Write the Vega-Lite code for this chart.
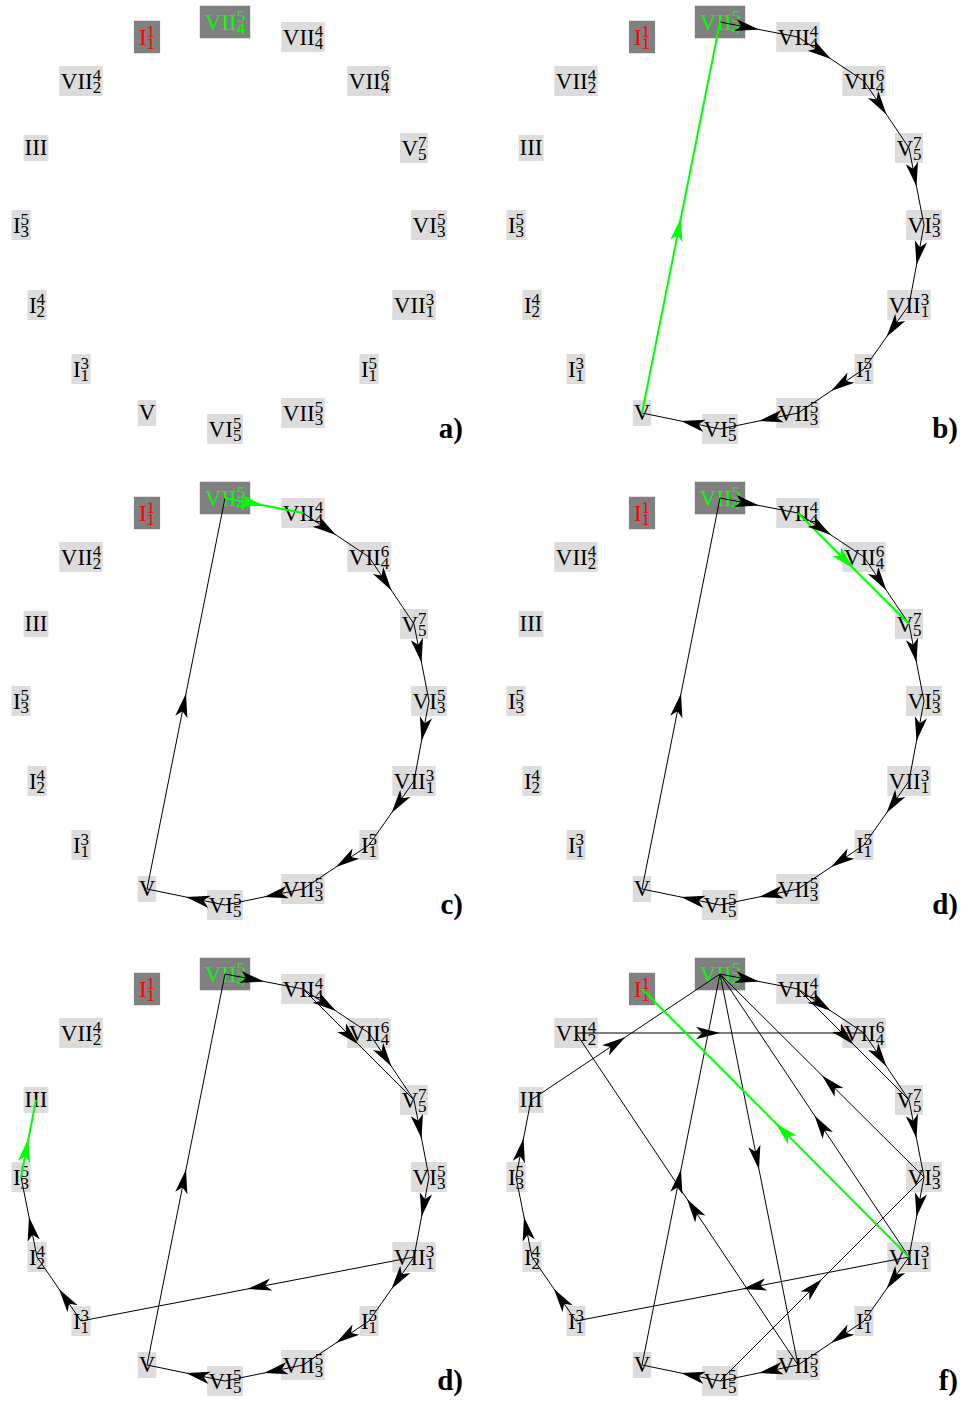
{
  "$schema": "https://vega.github.io/schema/vega-lite/v6.json",
  "padding": 0,
  "background": "white",
  "config": {"view": {"stroke": null}, "axis": {"disable": true}, "header": {"labels": false, "title": null, "labelPadding": 0, "labelExpr": "''", "labelFontSize": 0.01, "labelLimit": 1}, "headerFacet": {"labels": false, "labelPadding": 0, "labelExpr": "''", "labelFontSize": 0.01, "labelLimit": 1}},
  "datasets": {
    "graph": [
      {"kind": "node", "id": "n0", "base": "VII", "sup": "5", "sub": "4", "role": "current", "x": 225, "y": 21, "panel": ["p1","p2","p3","p4","p5","p6"]},
      {"kind": "node", "id": "n1", "base": "VII", "sup": "4", "sub": "4", "role": "normal", "x": 303, "y": 36, "panel": ["p1","p2","p3","p4","p5","p6"]},
      {"kind": "node", "id": "n2", "base": "VII", "sup": "6", "sub": "4", "role": "normal", "x": 369, "y": 80, "panel": ["p1","p2","p3","p4","p5","p6"]},
      {"kind": "node", "id": "n3", "base": "V", "sup": "7", "sub": "5", "role": "normal", "x": 414, "y": 147, "panel": ["p1","p2","p3","p4","p5","p6"]},
      {"kind": "node", "id": "n4", "base": "VI", "sup": "5", "sub": "3", "role": "normal", "x": 429, "y": 224, "panel": ["p1","p2","p3","p4","p5","p6"]},
      {"kind": "node", "id": "n5", "base": "VII", "sup": "3", "sub": "1", "role": "normal", "x": 414, "y": 304, "panel": ["p1","p2","p3","p4","p5","p6"]},
      {"kind": "node", "id": "n6", "base": "I", "sup": "5", "sub": "1", "role": "normal", "x": 369, "y": 368, "panel": ["p1","p2","p3","p4","p5","p6"]},
      {"kind": "node", "id": "n7", "base": "VII", "sup": "5", "sub": "3", "role": "normal", "x": 303, "y": 412, "panel": ["p1","p2","p3","p4","p5","p6"]},
      {"kind": "node", "id": "n8", "base": "VI", "sup": "5", "sub": "5", "role": "normal", "x": 225, "y": 428, "panel": ["p1","p2","p3","p4","p5","p6"]},
      {"kind": "node", "id": "n9", "base": "V", "sup": "", "sub": "", "role": "normal", "x": 147, "y": 412, "panel": ["p1","p2","p3","p4","p5","p6"]},
      {"kind": "node", "id": "n10", "base": "I", "sup": "3", "sub": "1", "role": "normal", "x": 81, "y": 368, "panel": ["p1","p2","p3","p4","p5","p6"]},
      {"kind": "node", "id": "n11", "base": "I", "sup": "4", "sub": "2", "role": "normal", "x": 37, "y": 304, "panel": ["p1","p2","p3","p4","p5","p6"]},
      {"kind": "node", "id": "n12", "base": "I", "sup": "5", "sub": "3", "role": "normal", "x": 21, "y": 224, "panel": ["p1","p2","p3","p4","p5","p6"]},
      {"kind": "node", "id": "n13", "base": "III", "sup": "", "sub": "", "role": "normal", "x": 36, "y": 147, "panel": ["p1","p2","p3","p4","p5","p6"]},
      {"kind": "node", "id": "n14", "base": "VII", "sup": "4", "sub": "2", "role": "normal", "x": 81, "y": 80, "panel": ["p1","p2","p3","p4","p5","p6"]},
      {"kind": "node", "id": "n15", "base": "I", "sup": "1", "sub": "1", "role": "start", "x": 147, "y": 36, "panel": ["p1","p2","p3","p4","p5","p6"]},

      {"kind": "edge", "src": "n0", "dst": "n1", "state": "old", "panel": ["p2","p4","p5","p6"]},
      {"kind": "edge", "src": "n0", "dst": "n1", "state": "new", "panel": ["p3"]},
      {"kind": "edge", "src": "n1", "dst": "n2", "state": "old", "panel": ["p2","p3","p4","p5","p6"]},
      {"kind": "edge", "src": "n2", "dst": "n3", "state": "old", "panel": ["p2","p3","p4","p5","p6"]},
      {"kind": "edge", "src": "n3", "dst": "n4", "state": "old", "panel": ["p2","p3","p4","p5","p6"]},
      {"kind": "edge", "src": "n4", "dst": "n5", "state": "old", "panel": ["p2","p3","p4","p5","p6"]},
      {"kind": "edge", "src": "n5", "dst": "n6", "state": "old", "panel": ["p2","p3","p4","p5","p6"]},
      {"kind": "edge", "src": "n6", "dst": "n7", "state": "old", "panel": ["p2","p3","p4","p5","p6"]},
      {"kind": "edge", "src": "n7", "dst": "n8", "state": "old", "panel": ["p2","p3","p4","p5","p6"]},
      {"kind": "edge", "src": "n8", "dst": "n9", "state": "old", "panel": ["p2","p3","p4","p5","p6"]},
      {"kind": "edge", "src": "n9", "dst": "n0", "state": "new", "panel": ["p2"]},
      {"kind": "edge", "src": "n9", "dst": "n0", "state": "old", "panel": ["p3","p4","p5","p6"]},
      {"kind": "edge", "src": "n1", "dst": "n3", "state": "new", "panel": ["p4"]},
      {"kind": "edge", "src": "n1", "dst": "n3", "state": "old", "panel": ["p5","p6"]},
      {"kind": "edge", "src": "n5", "dst": "n10", "state": "old", "panel": ["p5","p6"]},
      {"kind": "edge", "src": "n10", "dst": "n11", "state": "old", "panel": ["p5","p6"]},
      {"kind": "edge", "src": "n11", "dst": "n12", "state": "old", "panel": ["p5","p6"]},
      {"kind": "edge", "src": "n12", "dst": "n13", "state": "new", "panel": ["p5"]},
      {"kind": "edge", "src": "n12", "dst": "n13", "state": "old", "panel": ["p6"]},
      {"kind": "edge", "src": "n13", "dst": "n0", "state": "old", "panel": ["p6"]},
      {"kind": "edge", "src": "n14", "dst": "n2", "state": "old", "panel": ["p6"]},
      {"kind": "edge", "src": "n7", "dst": "n14", "state": "old", "panel": ["p6"]},
      {"kind": "edge", "src": "n0", "dst": "n7", "state": "old", "panel": ["p6"]},
      {"kind": "edge", "src": "n5", "dst": "n0", "state": "old", "panel": ["p6"]},
      {"kind": "edge", "src": "n4", "dst": "n0", "state": "old", "panel": ["p6"]},
      {"kind": "edge", "src": "n8", "dst": "n4", "state": "old", "panel": ["p6"]},
      {"kind": "edge", "src": "n5", "dst": "n15", "state": "new", "panel": ["p6"]},

      {"kind": "tag", "text": "a)", "panel": ["p1"]},
      {"kind": "tag", "text": "b)", "panel": ["p2"]},
      {"kind": "tag", "text": "c)", "panel": ["p3"]},
      {"kind": "tag", "text": "d)", "panel": ["p4"]},
      {"kind": "tag", "text": "d)", "panel": ["p5"]},
      {"kind": "tag", "text": "f)", "panel": ["p6"]}
    ]
  },
  "data": {"name": "graph"},
  "transform": [
    {"flatten": ["panel"]},
    {"lookup": "src", "from": {"data": {"name": "graph"}, "key": "id", "fields": ["x", "y"]}, "as": ["sx", "sy"]},
    {"lookup": "dst", "from": {"data": {"name": "graph"}, "key": "id", "fields": ["x", "y"]}, "as": ["ex", "ey"]},
    {"calculate": "(datum.sx + datum.ex) / 2", "as": "mx"},
    {"calculate": "(datum.sy + datum.ey) / 2", "as": "my"},
    {"calculate": "atan2(datum.ex - datum.sx, datum.sy - datum.ey) * 180 / PI", "as": "ang"},
    {"calculate": "datum.state == 'new' ? 1 : 0", "as": "zorder"},
    {"calculate": "datum.base == 'VII' ? 31.9 : datum.base == 'VI' ? 24.3 : datum.base == 'V' ? 16.6 : datum.base == 'III' ? 23 : 7.7", "as": "mw"},
    {"calculate": "datum.mw + (datum.sup ? 8.5 : 0)", "as": "tw"},
    {"calculate": "datum.x - datum.tw / 2", "as": "lx"},
    {"calculate": "datum.lx + datum.mw", "as": "scx"},
    {"calculate": "datum.tw + (datum.sup ? 3 : 2) + (datum.role == 'normal' ? 0 : 7)", "as": "bw"},
    {"calculate": "(datum.sup ? 30 : 26) + (datum.role == 'normal' ? 0 : 2.5)", "as": "bh"},
    {"calculate": "datum.x - datum.bw / 2", "as": "bx1"},
    {"calculate": "datum.x + datum.bw / 2", "as": "bx2"},
    {"calculate": "datum.y - datum.bh / 2", "as": "by1"},
    {"calculate": "datum.y + datum.bh / 2", "as": "by2"},
    {"calculate": "datum.y + (datum.sup ? 8 : 6.5)", "as": "baseY"},
    {"calculate": "datum.y - 0.5", "as": "supY"},
    {"calculate": "datum.y + 12", "as": "subY"}
  ],
  "columns": 2,
  "spacing": {"row": 20, "column": 27},
  "facet": {"field": "panel", "type": "nominal", "title": null, "header": {"labels": false, "title": null, "labelPadding": 0, "labelExpr": "''", "labelFontSize": 0.01, "labelLimit": 1}, "sort": "ascending"},
  "spec": {
    "width": 468,
    "height": 455,
    "layer": [
      {
        "transform": [{"filter": "datum.kind == 'node'"}],
        "mark": {"type": "rect"},
        "encoding": {
          "x": {"field": "bx1", "type": "quantitative", "scale": {"domain": [0, 468], "nice": false, "zero": false}},
          "x2": {"field": "bx2"},
          "y": {"field": "by1", "type": "quantitative", "scale": {"domain": [0, 455], "nice": false, "zero": false, "reverse": true}},
          "y2": {"field": "by2"},
          "fill": {"condition": {"test": "datum.role != 'normal'", "value": "#808080"}, "value": "#dcdcdc"}
        }
      },
      {
        "transform": [{"filter": "datum.kind == 'node'"}],
        "mark": {"type": "text", "font": "Liberation Serif", "fontSize": 23, "align": "left", "baseline": "alphabetic"},
        "encoding": {
          "x": {"field": "lx", "type": "quantitative", "scale": {"domain": [0, 468], "nice": false, "zero": false}},
          "y": {"field": "baseY", "type": "quantitative", "scale": {"domain": [0, 455], "nice": false, "zero": false, "reverse": true}},
          "text": {"field": "base"},
          "color": {"condition": [{"test": "datum.role == 'start'", "value": "#ff0000"}, {"test": "datum.role == 'current'", "value": "#00ff00"}], "value": "black"}
        }
      },
      {
        "transform": [{"filter": "datum.kind == 'node' && datum.sup"}],
        "mark": {"type": "text", "font": "Liberation Serif", "fontSize": 17, "align": "left", "baseline": "alphabetic"},
        "encoding": {
          "x": {"field": "scx", "type": "quantitative", "scale": {"domain": [0, 468], "nice": false, "zero": false}},
          "y": {"field": "supY", "type": "quantitative", "scale": {"domain": [0, 455], "nice": false, "zero": false, "reverse": true}},
          "text": {"field": "sup"},
          "color": {"condition": [{"test": "datum.role == 'start'", "value": "#ff0000"}, {"test": "datum.role == 'current'", "value": "#00ff00"}], "value": "black"}
        }
      },
      {
        "transform": [{"filter": "datum.kind == 'node' && datum.sub"}],
        "mark": {"type": "text", "font": "Liberation Serif", "fontSize": 17, "align": "left", "baseline": "alphabetic"},
        "encoding": {
          "x": {"field": "scx", "type": "quantitative", "scale": {"domain": [0, 468], "nice": false, "zero": false}},
          "y": {"field": "subY", "type": "quantitative", "scale": {"domain": [0, 455], "nice": false, "zero": false, "reverse": true}},
          "text": {"field": "sub"},
          "color": {"condition": [{"test": "datum.role == 'start'", "value": "#ff0000"}, {"test": "datum.role == 'current'", "value": "#00ff00"}], "value": "black"}
        }
      },
      {
        "transform": [{"filter": "datum.kind == 'edge'"}],
        "mark": {"type": "rule"},
        "encoding": {
          "x": {"field": "sx", "type": "quantitative", "scale": {"domain": [0, 468], "nice": false, "zero": false}},
          "y": {"field": "sy", "type": "quantitative", "scale": {"domain": [0, 455], "nice": false, "zero": false, "reverse": true}},
          "x2": {"field": "ex"},
          "y2": {"field": "ey"},
          "order": {"field": "zorder", "type": "quantitative"},
          "color": {"condition": {"test": "datum.state == 'new'", "value": "#00ff00"}, "value": "black"},
          "strokeWidth": {"condition": {"test": "datum.state == 'new'", "value": 2}, "value": 1}
        }
      },
      {
        "transform": [{"filter": "datum.kind == 'edge'"}],
        "mark": {"type": "point", "shape": "M0,0L0.62,2.4L0,1.8L-0.62,2.4Z", "filled": true, "size": 400, "opacity": 1, "strokeWidth": 0},
        "encoding": {
          "x": {"field": "mx", "type": "quantitative", "scale": {"domain": [0, 468], "nice": false, "zero": false}},
          "y": {"field": "my", "type": "quantitative", "scale": {"domain": [0, 455], "nice": false, "zero": false, "reverse": true}},
          "angle": {"field": "ang", "type": "quantitative", "scale": null},
          "order": {"field": "zorder", "type": "quantitative"},
          "color": {"condition": {"test": "datum.state == 'new'", "value": "#00ff00"}, "value": "black"}
        }
      },
      {
        "transform": [{"filter": "datum.kind == 'tag'"}],
        "mark": {"type": "text", "font": "Liberation Serif", "fontSize": 29, "fontWeight": "bold", "align": "right", "baseline": "alphabetic"},
        "encoding": {
          "x": {"datum": 463, "type": "quantitative", "scale": {"domain": [0, 468], "nice": false, "zero": false}},
          "y": {"datum": 437, "type": "quantitative", "scale": {"domain": [0, 455], "nice": false, "zero": false, "reverse": true}},
          "text": {"field": "text"},
          "color": {"value": "black"}
        }
      }
    ]
  }
}
